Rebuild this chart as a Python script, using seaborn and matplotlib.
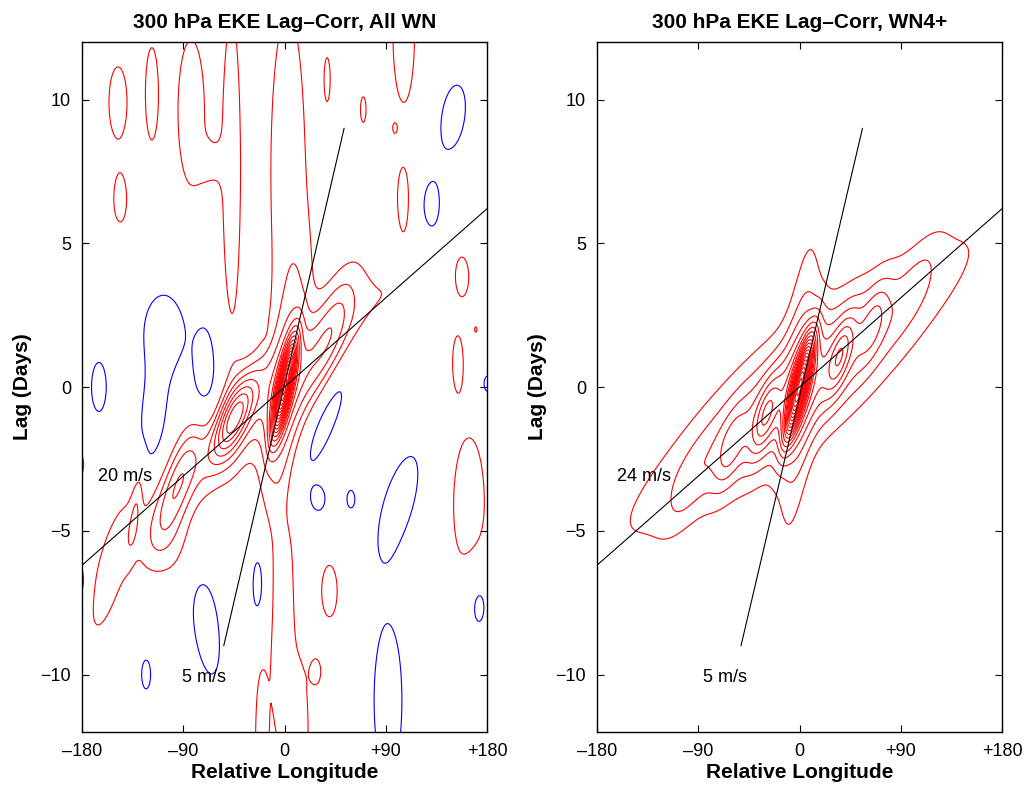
import numpy as np
import matplotlib
matplotlib.use("Agg")
import matplotlib.pyplot as plt
import seaborn as sns
import pandas as pd

# ---------------------------------------------------------------------------
# Lag-correlation features of 300 hPa EKE.  Each feature is an anisotropic
# bump: centre (lon, lag), peak correlation, half-scale along its axis (days),
# half-scale across it (degrees) and axis tilt (degrees longitude per day).
# ---------------------------------------------------------------------------

# All wavenumbers
allwn_lon  = [0,    0,    0,   -44,  -94, -155,  40,   3,    -2,
              -148, -118, -146, -83,  -47,  38,   70,   106,  150,  105.5,
              131,  158,  154,  181,  -19, -107, -70,  -165, 38,   40,
              28,   -23,  -70,  -123, 30,   59,   102,  92,   164,  -182,
              -182, 172,  -21,  15,   98,   170,  -132, -100, -117, -65]
allwn_lag  = [0,    0,    0,   -1.0, -3.3, -6.5,  2.0,  7.5,  -8.5,
              9.9,  10.2, 6.5,  9.6,  7.6,  10.7, 9.65, 12.3, 9.4,  6.55,
              6.1,  3.8,  0.9,  0.1,  2.05, 2.0,  0.3,  0.0,  -1.0, -7.1,
              -9.9, -6.85, -8.2, -10.0, -3.9, -3.9, -4.0, -10.9, -4.1, -2.7,
              -6.75, -7.5, -12.5, -12.0, 9.0, 2.0, -4.2, -5.5, -1.2, 7.8]
allwn_amp  = [0.66, 0.12, 0.10, 0.30, 0.15, 0.08, 0.12, 0.08, 0.08,
              0.08, 0.08, 0.08, 0.08, 0.08, 0.08, 0.08, 0.08, -0.08, 0.08,
              -0.08, 0.08, 0.08, -0.08, -0.06, -0.08, -0.08, -0.08, -0.08, 0.08,
              0.08, -0.08, -0.08, -0.08, -0.08, -0.08, -0.08, -0.08, 0.08, 0.08,
              -0.08, -0.08, 0.08, 0.08, 0.06, 0.06, 0.06, 0.06, -0.08, 0.05]
allwn_len  = [1.5,  4.0,  4.5,  1.5,  2.0,  2.5,  2.2,  8.0,  6.0,
              1.8,  2.3,  1.1,  3.6,  7.5,  1.0,  0.65, 3.5,  1.6,  1.24,
              1.45, 0.9,  1.2,  0.5,  0.25, 1.7,  2.2,  1.24, 2.9,  1.3,
              0.6,  1.8,  2.6,  0.73, 0.58, 0.44, 2.3,  3.8,  3.4,  0.6,
              0.95, 1.5,  3.2,  2.5,  0.2,  0.2,  1.7,  1.5,  2.2,  0.8]
allwn_wid  = [6.0,  16.0, 40.0, 14.0, 14.0, 14.0, 16.0, 22.0, 14.0,
              11.7, 8.0,  8.0,  17.0, 11.0, 3.5,  3.6,  14.0, 15.0, 6.5,
              13.0, 8.0,  6.0,  7.0,  2.5,  24.0, 13.0, 9.5,  14.6, 10.0,
              6.0,  8.7,  16.0, 5.8,  8.7,  5.0,  19.0, 18.0, 20.0, 5.0,
              7.0,  13.0, 6.5,  8.0,  2.2,  2.2,  5.0,  30.0, 15.0, 12.0]
allwn_tilt = [5,    3,    24,   10,   8,    6,    8,    0,    0,
              0,    0,    0,    0,    0,    0,    0,    0,    3,    0,
              0,    0,    0,    0,    0,    0,    0,    0,    9.7,  0,
              0,    0,    -3,   0,    0,    0,    6.5,  0,    0,    0,
              0,    0,    0,    0,    0,    0,    3,    0,    2,    0]

# Wavenumbers 4 and higher
wn4_lon  = [0,    0,    0,    0,    -30,  36,   -62,  66,   -100, 105]
wn4_lag  = [0,    0,    0,    0,    -1.0, 1.1,  -2.2, 2.3,  -3.6, 3.8]
wn4_amp  = [0.62, 0.12, 0.12, 0.12, 0.15, 0.15, 0.08, 0.08, 0.04, 0.04]
wn4_len  = [1.6,  5.0,  3.0,  5.2,  1.3,  1.3,  1.3,  1.3,  1.6,  1.6]
wn4_wid  = [6.5,  14.0, 56.0, 56.0, 9.0,  9.0,  10.0, 10.0, 14.0, 14.0]
wn4_tilt = [6,    2,    18,   28,   6,    6,    6,    6,    10,   10]

# Reference propagation speeds: (longitude, lag) end points of each line
allwn_group_lon, allwn_group_lag = [-180, 180], [-6.2, 6.2]
allwn_phase_lon, allwn_phase_lag = [-54, 53], [-9.0, 9.0]
wn4_group_lon, wn4_group_lag = [-180, 180], [-6.2, 6.2]
wn4_phase_lon, wn4_phase_lag = [-52, 56], [-9.0, 9.0]

allwn_labels = [("20 m/s", -166, -3.1), ("5 m/s", -91, -10.1)]
wn4_labels = [("24 m/s", -162, -3.1), ("5 m/s", -86, -10.1)]

titles = ["300 hPa EKE Lag\u2013Corr, All WN", "300 hPa EKE Lag\u2013Corr, WN4+"]
xtick_vals = [-180, -90, 0, 90, 180]
xtick_text = ["\u2013180", "\u201390", "0", "+90", "+180"]
ytick_vals = [-10, -5, 0, 5, 10]
ytick_text = ["\u221210", "\u22125", "0", "5", "10"]

pos_levels = np.round(np.arange(0.05, 1.0, 0.05), 2)
neg_levels = [-0.10, -0.05]

lon = np.arange(-186, 186.1, 1.0)
lag = np.arange(-12.5, 12.51, 0.08)
LON, LAG = np.meshgrid(lon, lag)


def build_field(lons, lags, amps, lens, wids, tilts):
    z = np.zeros_like(LON)
    for x0, t0, a, sl, sw, k in zip(lons, lags, amps, lens, wids, tilts):
        dt = LAG - t0
        p = (LON - x0) - k * dt
        z += a * np.exp(-(dt / sl) ** 2 - (p / sw) ** 2)
    return z


sns.set_style("ticks")
plt.rcParams["font.family"] = ["Liberation Sans", "DejaVu Sans"]
plt.rcParams["axes.linewidth"] = 1.0
plt.rcParams["text.color"] = "black"
plt.rcParams["axes.labelcolor"] = "black"
plt.rcParams["xtick.color"] = "black"
plt.rcParams["ytick.color"] = "black"

fig = plt.figure(figsize=(10.30, 7.92), dpi=100)
ax1 = fig.add_axes([82 / 1030, 60 / 792, 405 / 1030, 690 / 792])
ax2 = fig.add_axes([597 / 1030, 60 / 792, 405 / 1030, 690 / 792])

panels = [
    (ax1, build_field(allwn_lon, allwn_lag, allwn_amp, allwn_len, allwn_wid, allwn_tilt),
     (allwn_group_lon, allwn_group_lag), (allwn_phase_lon, allwn_phase_lag), allwn_labels),
    (ax2, build_field(wn4_lon, wn4_lag, wn4_amp, wn4_len, wn4_wid, wn4_tilt),
     (wn4_group_lon, wn4_group_lag), (wn4_phase_lon, wn4_phase_lag), wn4_labels),
]

for i, (ax, z, grp, phs, labels) in enumerate(panels):
    ax.contour(LON, LAG, z, levels=pos_levels, colors="#ff0000", linewidths=0.8,
               linestyles="solid")
    ax.contour(LON, LAG, z, levels=neg_levels, colors="#0000ff", linewidths=0.8,
               linestyles="solid")
    for seg in (grp, phs):
        df = pd.DataFrame({"lon": seg[0], "lag": seg[1]})
        sns.lineplot(data=df, x="lon", y="lag", ax=ax, color="black",
                     linewidth=0.8, sort=False, estimator=None)
    for txt, x, y in labels:
        ax.text(x, y, txt, fontsize=13, ha="left", va="center", color="black")

    ax.set_xlim(-180, 180)
    ax.set_ylim(-12, 12)
    ax.set_xticks(xtick_vals)
    ax.set_xticklabels(xtick_text)
    ax.set_yticks(ytick_vals)
    ax.set_yticklabels(ytick_text)
    ax.tick_params(direction="in", length=5, width=0.8, top=True, right=True,
                   labelsize=13, pad=8, colors="black")
    for s in ax.spines.values():
        s.set_visible(True)
        s.set_color("black")
    ax.set_xlabel("Relative Longitude", fontsize=15, fontweight="bold", labelpad=2)
    ax.set_ylabel("Lag (Days)", fontsize=15, fontweight="bold", labelpad=6)
    ax.set_title(titles[i], fontsize=15, fontweight="bold", pad=10)

fig.savefig("out.png", dpi=100)
